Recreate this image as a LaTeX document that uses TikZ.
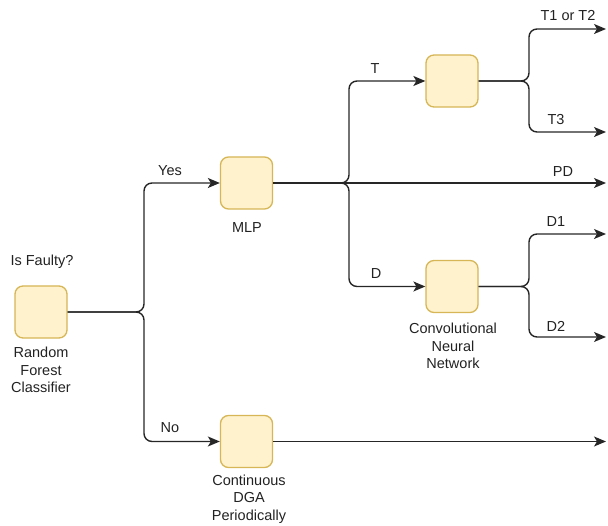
\documentclass[tikz,border=0pt]{standalone}
\usepackage{fontspec}
\setmainfont{Liberation Sans}
\usetikzlibrary{arrows.meta}
\definecolor{boxfill}{HTML}{FFF2CC}
\definecolor{boxline}{HTML}{D6B656}
\definecolor{txt}{HTML}{222222}
\begin{document}
\begin{tikzpicture}[x=1pt,y=-1pt,
  procbox/.style={draw=boxline,fill=boxfill,line width=1.3pt,rounded corners=8pt,minimum width=52pt,minimum height=52pt,inner sep=0pt},
  lbl/.style={text=txt,font=\fontsize{14.5}{17.5}\selectfont,inner sep=0pt,align=center},
  conn/.style={draw=black!85,line width=1.4pt,rounded corners=8pt},
  arr/.style={conn,-{Stealth[length=12pt,width=10pt,inset=3pt]}}]
\useasboundingbox (0,0) rectangle (608,526);
% boxes
\node[procbox] (rf) at (41,312) {};
\node[procbox] (mlp) at (246.5,183) {};
\node[procbox] (tb) at (452,81) {};
\node[procbox] (cnn) at (452,286.5) {};
\node[procbox] (dga) at (246.5,441.5) {};
% junction coordinates
\coordinate (j1) at (144,312);
\coordinate (j2) at (349,183);
\coordinate (j3) at (529,81);
\coordinate (j4) at (529,286.5);
% end points
\coordinate (e1) at (606,29);
\coordinate (e2) at (606,132);
\coordinate (e3) at (606,183);
\coordinate (e4) at (606,234);
\coordinate (e5) at (606,337);
\coordinate (e6) at (606,441.5);
% connectors
\draw[arr] (rf.east) -- (j1) |- (mlp.west);
\draw[arr] (rf.east) -- (j1) |- (dga.west);
\draw[arr] (mlp.east) -- (j2) |- (tb.west);
\draw[arr] (mlp.east) -- (j2) |- (cnn.west);
\draw[arr] (mlp.east) -- (e3);
\draw[arr] (tb.east) -- (j3) |- (e1);
\draw[arr] (tb.east) -- (j3) |- (e2);
\draw[arr] (cnn.east) -- (j4) |- (e4);
\draw[arr] (cnn.east) -- (j4) |- (e5);
\draw[arr] (dga.east) -- (e6);
% labels
\node[lbl] (l0) at (42,262) {Is Faulty?};
\node[lbl] (l1) at (41,370) {Random\\Forest\\Classifier};
\node[lbl] (l2) at (170,171) {Yes};
\node[lbl] (l3) at (170,428) {No};
\node[lbl] (l4) at (247,228) {MLP};
\node[lbl] (l5) at (375,69) {T};
\node[lbl] (l6) at (376,274) {D};
\node[lbl] (l7) at (568,16) {T1 or T2};
\node[lbl] (l8) at (556,120) {T3};
\node[lbl] (l9) at (563,172) {PD};
\node[lbl] (l10) at (556,222) {D1};
\node[lbl] (l11) at (556,326) {D2};
\node[lbl] (l12) at (453,346) {Convolutional\\Neural\\Network};
\node[lbl] (l13) at (249,499) {Continuous\\DGA\\Periodically};
\end{tikzpicture}
\end{document}
